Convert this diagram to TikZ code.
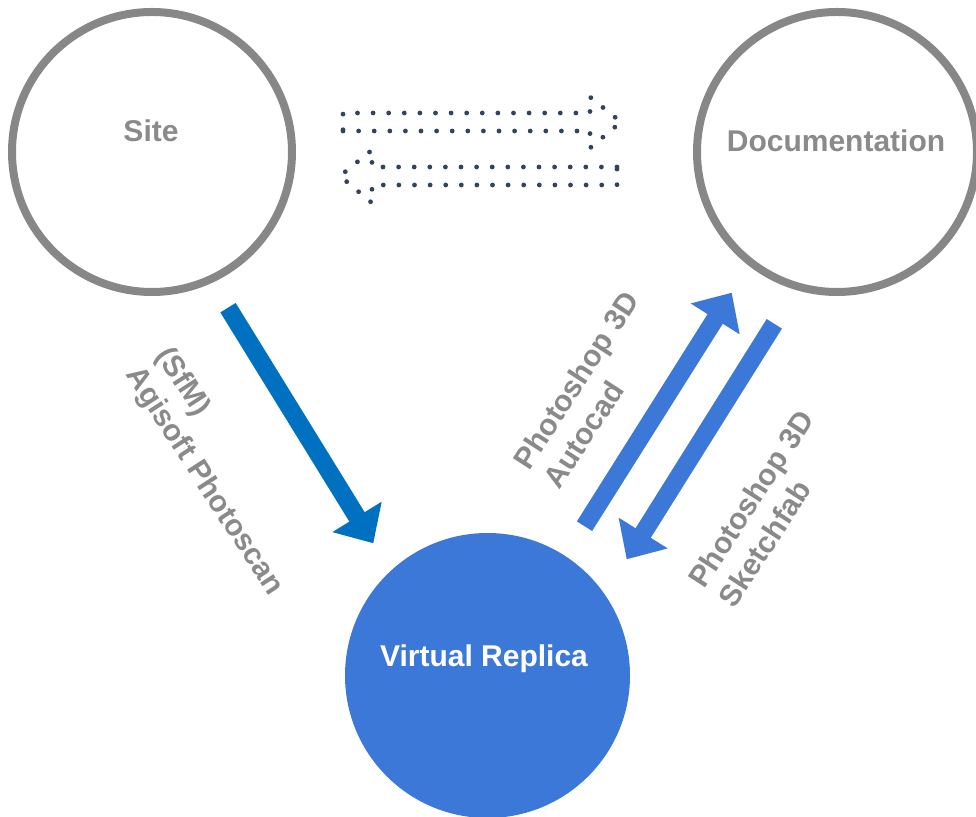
\documentclass[tikz,border=0pt]{standalone}
\usepackage{fontspec}
\setmainfont{Liberation Sans}
\usetikzlibrary{arrows.meta}
\definecolor{ringgray}{HTML}{878787}
\definecolor{txtgray}{HTML}{8A8A8A}
\definecolor{vrblue}{HTML}{3C78D8}
\definecolor{darkblue}{HTML}{0070C0}
\definecolor{dotnavy}{HTML}{34435A}
\begin{document}
\begin{tikzpicture}[x=1pt,y=1pt,
  ring/.style={circle, draw=ringgray, line width=8pt, minimum size=280pt, inner sep=0pt},
  filledball/.style={circle, fill=vrblue, minimum size=285pt, inner sep=0pt},
  bigtxt/.style={font=\fontsize{30}{36}\selectfont\bfseries, inner sep=0pt},
  fatarrow/.style={line width=18pt, -{Triangle[length=31pt,width=56pt]}},
  dotline/.style={dotnavy, line width=4.8pt, line cap=round, dash pattern=on 0pt off 15.6pt},
  lbl/.style={bigtxt, text=txtgray, align=left}
]
\useasboundingbox (0,0) rectangle (976,816);
% circles
\node[ring] (site) at (152,664) {};
\node[ring] (doc) at (837,664) {};
\node[filledball] (vr) at (487.5,140.5) {};
% circle texts
\node[bigtxt, text=txtgray, anchor=base] (sitetxt) at (151,674) {Site};
\node[bigtxt, text=txtgray, anchor=base] (doctxt) at (836,664) {Documentation};
\node[bigtxt, text=white, anchor=base] (vrtxt) at (484,149) {Virtual Replica};
% fat arrows
\coordinate (a1s) at (228,508.3);
\coordinate (a1e) at (373.3,272.7);
\coordinate (a2s) at (584.5,289.8);
\coordinate (a2e) at (731.7,523.3);
\coordinate (a3s) at (774.3,492.2);
\coordinate (a3e) at (626.7,256.7);
\draw[fatarrow, darkblue] (a1s) -- (a1e);
\draw[fatarrow, vrblue] (a2s) -- (a2e);
\draw[fatarrow, vrblue] (a3s) -- (a3e);
% labels
\node[lbl, rotate=-57] (lab1) at (219,344) {(SfM)\\Agisoft Photoscan};
\node[lbl, rotate=57] (lab2) at (591,426) {Photoshop 3D\\Autocad};
\node[lbl, rotate=57] (lab3) at (766,307.5) {Photoshop 3D\\Sketchfab};
% dotted block arrows
\draw[dotline] (343,685) -- (590,685) -- (590,668) -- (621,694) -- (590,719) -- (590,703) -- (343,703) -- cycle;
\draw[dotline] (617,649) -- (372,649) -- (372,666) -- (340,640) -- (372,613) -- (372,631) -- (617,631) -- cycle;
\end{tikzpicture}
\end{document}
